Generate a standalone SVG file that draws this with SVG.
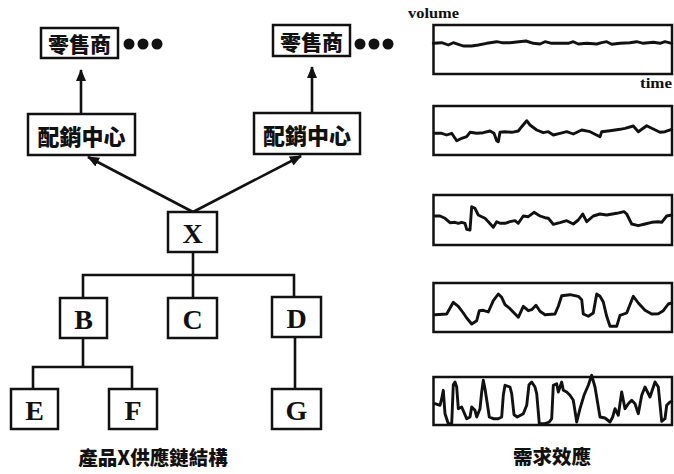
<svg xmlns="http://www.w3.org/2000/svg" width="674" height="474" viewBox="0 0 674 474">
<style>
.box{fill:#fff;stroke:#111;stroke-width:2.5}
.ln{fill:none;stroke:#111;stroke-width:2.6}
.wave{fill:none;stroke:#111;stroke-width:2.9;stroke-linejoin:round;stroke-linecap:round}
.cjk{font-family:"Noto Sans CJK TC","Noto Sans CJK SC",sans-serif;font-weight:900;fill:#111;text-anchor:middle;dominant-baseline:central}
.let{font-family:"Liberation Serif",serif;font-weight:bold;fill:#111;text-anchor:middle;dominant-baseline:central;font-size:28px}
.axis{font-family:"Liberation Serif",serif;font-weight:bold;fill:#111;font-size:15px}
.dot{fill:#111}
</style>
<defs>
<marker id="ah" markerUnits="userSpaceOnUse" markerWidth="12" markerHeight="10" refX="11" refY="5" orient="auto">
<path d="M0,0 L12,5 L0,10 Z" fill="#111"/>
</marker>
</defs>
<g id="connectors">
<line class="ln" x1="81" y1="114" x2="81" y2="70" marker-end="url(#ah)"/>
<line class="ln" x1="312" y1="113" x2="312" y2="67" marker-end="url(#ah)"/>
<line class="ln" x1="193" y1="212" x2="88" y2="157" marker-end="url(#ah)"/>
<line class="ln" x1="193" y1="212" x2="301" y2="156" marker-end="url(#ah)"/>
<polyline class="ln" points="193,252 193,298"/>
<polyline class="ln" points="83,298 83,275 294,275 294,297"/>
<polyline class="ln" points="83,338 83,367"/>
<polyline class="ln" points="33,389 33,367 132,367 132,389"/>
<polyline class="ln" points="295,337 295,389"/>
</g>
<g id="retailer-left">
<rect class="box" x="41" y="28" width="77" height="30"/>
<text class="cjk" x="79.5" y="43" font-size="21">零售商</text>
<circle class="dot" cx="129" cy="44" r="5.5"/><circle class="dot" cx="143" cy="44" r="5.5"/><circle class="dot" cx="157" cy="44" r="5.5"/>
</g>
<g id="retailer-right">
<rect class="box" x="273" y="25" width="77" height="31"/>
<text class="cjk" x="311.5" y="40.5" font-size="21">零售商</text>
<circle class="dot" cx="360" cy="44" r="5.5"/><circle class="dot" cx="374" cy="44" r="5.5"/><circle class="dot" cx="388" cy="44" r="5.5"/>
</g>
<g id="dc-left">
<rect class="box" x="28" y="114" width="107" height="41"/>
<text class="cjk" x="81.5" y="134.5" font-size="22">配銷中心</text>
</g>
<g id="dc-right">
<rect class="box" x="254" y="113" width="106" height="41"/>
<text class="cjk" x="307" y="133.5" font-size="22">配銷中心</text>
</g>
<g id="node-X">
<rect class="box" x="168" y="212" width="49" height="40"/>
<text class="let" x="192.5" y="233" font-size="31">X</text>
</g>
<g id="node-B">
<rect class="box" x="60" y="298" width="47" height="40"/>
<text class="let" x="83.5" y="319">B</text>
</g>
<g id="node-C">
<rect class="box" x="168" y="298" width="49" height="40"/>
<text class="let" x="192.5" y="319">C</text>
</g>
<g id="node-D">
<rect class="box" x="272" y="297" width="49" height="40"/>
<text class="let" x="296.5" y="318">D</text>
</g>
<g id="node-E">
<rect class="box" x="11" y="389" width="47" height="40"/>
<text class="let" x="34.5" y="410">E</text>
</g>
<g id="node-F">
<rect class="box" x="109" y="389" width="48" height="40"/>
<text class="let" x="133" y="410">F</text>
</g>
<g id="node-G">
<rect class="box" x="272" y="389" width="49" height="40"/>
<text class="let" x="296.5" y="410">G</text>
</g>
<text class="cjk" x="153" y="456" font-size="19.5">產品X供應鏈結構</text>
<g id="demand-panels">
<text class="axis" x="408" y="18" textLength="51" lengthAdjust="spacingAndGlyphs">volume</text>
<text class="axis" x="640" y="88" textLength="32" lengthAdjust="spacingAndGlyphs">time</text>
<rect class="box" x="433.5" y="25" width="238.5" height="49"/>
<polyline class="wave" points="433.3,43.3 441.7,42.7 448.3,45 453.3,42.7 458.3,44.3 463.3,46 471.7,46 478.3,45 486.7,43.3 496.7,41.7 501.7,42.7 510,42.7 516.7,42 526,41 533.3,43.3 540,44 545,41.7 551.7,43.3 560,43.3 568.3,43.3 573.3,41.7 578.3,44 586.7,43.3 596.7,44 601.7,42.7 606.7,41.7 611.7,44.3 620,43.3 630,42.7 636.7,41.7 643.3,43.3 653.3,42.3 660,43.3 665,41.7 671.7,43.3"/>
<rect class="box" x="433.5" y="106" width="238.5" height="49"/>
<polyline class="wave" points="435,133.3 441.7,133.3 446.7,135 451.7,133.3 456.7,140.7 461.7,138.3 466.7,136.7 470,132.3 476.7,133.3 483.3,132.7 490,131 494,133.3 496.7,140.7 498.3,141.7 500,132.3 505,131.7 511.7,132.3 518.3,131 521.7,126.7 526.7,120.7 530,125 536.7,130 543.3,132.7 548.3,131.7 553.3,135 560,133.3 566.7,131.7 573.3,134 581.7,130 590,131.7 600,136.7 601.7,131.7 610,130.7 620,129.3 625,128.3 633.3,126 638.3,131.7 646.7,125.7 651.7,128.3 660,132.3 665,131.7 671.7,129.3"/>
<rect class="box" x="433.5" y="195" width="238.5" height="50"/>
<polyline class="wave" points="435,216 440,216 445,218.3 450,222.7 455,222.3 458.3,223.3 461.7,222.3 465,223.3 466.7,229.3 470,230 471.7,206.7 475,208.3 478.3,215 481.7,216.7 485,218.3 488.3,221.7 493.3,227.3 496.7,221.7 500,223.3 505,223.3 510,221.7 515,220.7 518.3,223.3 523.3,216 528.3,216.7 534,212.3 540,216 545,217.7 548.3,218.3 553.3,224.3 560,222.7 566.7,220.7 573.3,224 578.3,220 582.7,214 586.7,221.7 593.3,216 600,214 606.7,215 616.7,213.3 624,211.7 626.7,214 631.7,224 638.3,225.7 645,224 651.7,222.3 658.3,221.7 661.7,222.3 666.7,216 671.7,215"/>
<rect class="box" x="433.5" y="283" width="238.5" height="49"/>
<polyline class="wave" points="435,314.7 446.7,314 453.3,302.3 458.3,306.3 463.3,313 466.7,318 471.7,324 476.7,320.7 479.3,310.7 483.3,310.3 488.3,312 493.3,300.7 498.3,294 501.7,297.3 505,304.7 510,308.7 518.3,317.3 523.3,306.3 528.3,310.7 531.7,309.7 536,305.3 540,311.3 545,314.7 555,314 558.3,306.3 561.7,295.7 570,294.7 578.3,296.3 581.7,299.7 583.3,314 588.3,316.3 593.3,313 596.7,294 600,296.3 603.3,302 606.7,316.3 610,326.3 616.7,326.3 620,315.3 626.7,313 633.3,296.3 638.3,303 645,310.3 651.7,314 658.3,313.7 663.3,310.7 668.3,304 671.7,303"/>
<rect class="box" x="433.5" y="377" width="238.5" height="48"/>
<polyline class="wave" points="435,403.7 440,405.3 441.7,398.7 443.3,390.3 445,413.7 448.3,423.7 451.7,423.7 453.3,384.7 455,382 456.7,387 458.3,408.7 461.7,407 466.7,418.7 470,417 471.7,407 475,410.3 476.7,417 480,408.7 481.7,392 483.3,380.3 485,388.7 487.3,403.7 489.3,417 493.3,418.7 498.3,418.7 501.7,417 503.3,395.3 505,385.3 510,387 511.7,393.7 514,414.7 517.3,417 523.3,413.7 526.7,405.3 529,384.7 531.7,382 535,387 536.7,393.7 539.3,423.7 545,423.7 549.3,422 551.7,418.7 553.3,385.3 556.7,383.7 558.3,392 561.7,382 563.3,390.3 566.7,392 570,395.3 573.3,400.3 576.7,422 580,408.7 584,395.3 588.3,385.3 591.7,375.3 595,387 600,417 605,418 610,422 612.7,417 615,408.7 618.3,415.3 621.7,392 625,408.7 628.3,403.7 631.7,400.3 635,403.7 638.3,413.7 641.7,395.3 645,387 650,397 655,382 658.3,387 661.7,421.3 665,418.7 666.7,405.3 670,402 671.7,401.3"/>
<text class="cjk" x="552" y="455" font-size="19.5">需求效應</text>
</g>
</svg>
